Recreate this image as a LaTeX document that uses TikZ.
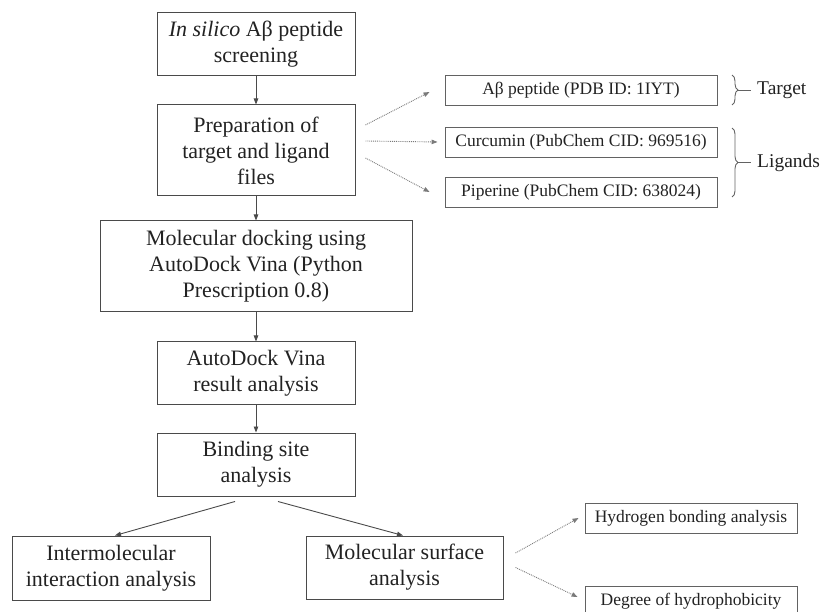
\documentclass[tikz,border=0pt]{standalone}
\usepackage{fontspec}
\setmainfont{Liberation Serif}
\usetikzlibrary{arrows.meta,calc,decorations.pathreplacing}
\definecolor{linec}{HTML}{4A4A4A}
\definecolor{textc}{HTML}{222222}
\definecolor{dotc}{HTML}{7A7A7A}
\tikzset{
  mainbox/.style={draw=linec, line width=1pt, text=textc, align=center, inner sep=0pt,
    font=\fontsize{22}{26}\selectfont},
  smallbox/.style={draw=dotc!80!black, line width=0.9pt, text=textc, align=center, inner sep=0pt,
    font=\fontsize{17.5}{20}\selectfont, minimum height=30pt},
  labeltext/.style={text=textc, inner sep=0pt, anchor=west, font=\fontsize{19.5}{22}\selectfont},
  solidarrow/.style={draw=linec, line width=0.9pt, -{Triangle[length=6pt,width=4.5pt]}},
  dotarrow/.style={draw=dotc, line width=0.9pt, densely dotted, -{Triangle[length=6pt,width=4.5pt]}},
  bracestyle/.style={draw=dotc!80!black, line width=0.9pt, decorate, decoration={brace, amplitude=6pt}}
}
\begin{document}
\begin{tikzpicture}[x=1pt, y=-1pt]
\useasboundingbox (0,0) rectangle (822,612);
% main column
\node[mainbox, minimum width=198pt, minimum height=63pt] (b1) at (256,44.5) {\textit{In silico} Aβ peptide\\screening};
\node[mainbox, minimum width=198pt, minimum height=91pt] (b2) at (256,150.5) {Preparation of\\target and ligand\\files};
\node[mainbox, minimum width=312pt, minimum height=91pt] (b3) at (256,266.5) {Molecular docking using\\AutoDock Vina (Python\\Prescription 0.8)};
\node[mainbox, minimum width=198pt, minimum height=62pt] (b4) at (256,373) {AutoDock Vina\\result analysis};
\node[mainbox, minimum width=198pt, minimum height=63pt] (b5) at (256,464.5) {Binding site\\analysis};
\node[mainbox, minimum width=198pt, minimum height=64pt] (i1) at (111,568) {Intermolecular\\interaction analysis};
\node[mainbox, minimum width=197pt, minimum height=63pt] (i2) at (404.5,567.5) {Molecular surface\\analysis};
% right small boxes
\node[smallbox, minimum width=272pt] (s1) at (581,90) {Aβ peptide (PDB ID: 1IYT)};
\node[smallbox, minimum width=272pt] (s2) at (581,142) {Curcumin (PubChem CID: 969516)};
\node[smallbox, minimum width=272pt] (s3) at (581,192) {Piperine (PubChem CID: 638024)};
\node[smallbox, minimum width=212pt] (h1) at (691,518) {Hydrogen bonding analysis};
\node[smallbox, minimum width=212pt] (h2) at (691,601) {Degree of hydrophobicity};
% braces and labels
\coordinate (bt1) at (732,75);
\coordinate (bt2) at (732,105);
\coordinate (bl1) at (732,128);
\coordinate (bl2) at (732,197);
\draw[bracestyle] (bt1) -- (bt2);
\draw[bracestyle] (bl1) -- (bl2);
\coordinate (tt) at (738,90);
\coordinate (tl) at (738,162.5);
\node[labeltext] (lt) at (757,90) {Target};
\node[labeltext] (ll) at (757,162.5) {Ligands};
\draw[draw=dotc!80!black, line width=0.9pt] (tt) -- ([xshift=-6pt]lt.west);
\draw[draw=dotc!80!black, line width=0.9pt] (tl) -- ([xshift=-6pt]ll.west);
% main arrows
\draw[solidarrow] (b1.south) -- (b2.north);
\draw[solidarrow] (b2.south) -- (b3.north);
\draw[solidarrow] (b3.south) -- (b4.north);
\draw[solidarrow] (b4.south) -- (b5.north);
\draw[solidarrow] ([xshift=-21pt,yshift=-5pt]b5.south) -- ([xshift=4pt]i1.north);
\draw[solidarrow] ([xshift=22pt,yshift=-5pt]b5.south) -- ([xshift=-1.5pt]i2.north);
% dotted arrows
\draw[dotarrow] ([xshift=10pt,yshift=25.5pt]b2.east) -- ([xshift=-15pt,yshift=-2pt]s1.west);
\draw[dotarrow] ([xshift=10pt,yshift=9.5pt]b2.east) -- ([xshift=-7pt]s2.west);
\draw[dotarrow] ([xshift=10pt,yshift=-7.5pt]b2.east) -- ([xshift=-15pt]s3.west);
\draw[dotarrow] ([xshift=12pt,yshift=14.5pt]i2.east) -- ([xshift=-6pt]h1.west);
\draw[dotarrow] ([xshift=12pt]i2.east) -- ([xshift=-7pt,yshift=4pt]h2.west);
\end{tikzpicture}
\end{document}
